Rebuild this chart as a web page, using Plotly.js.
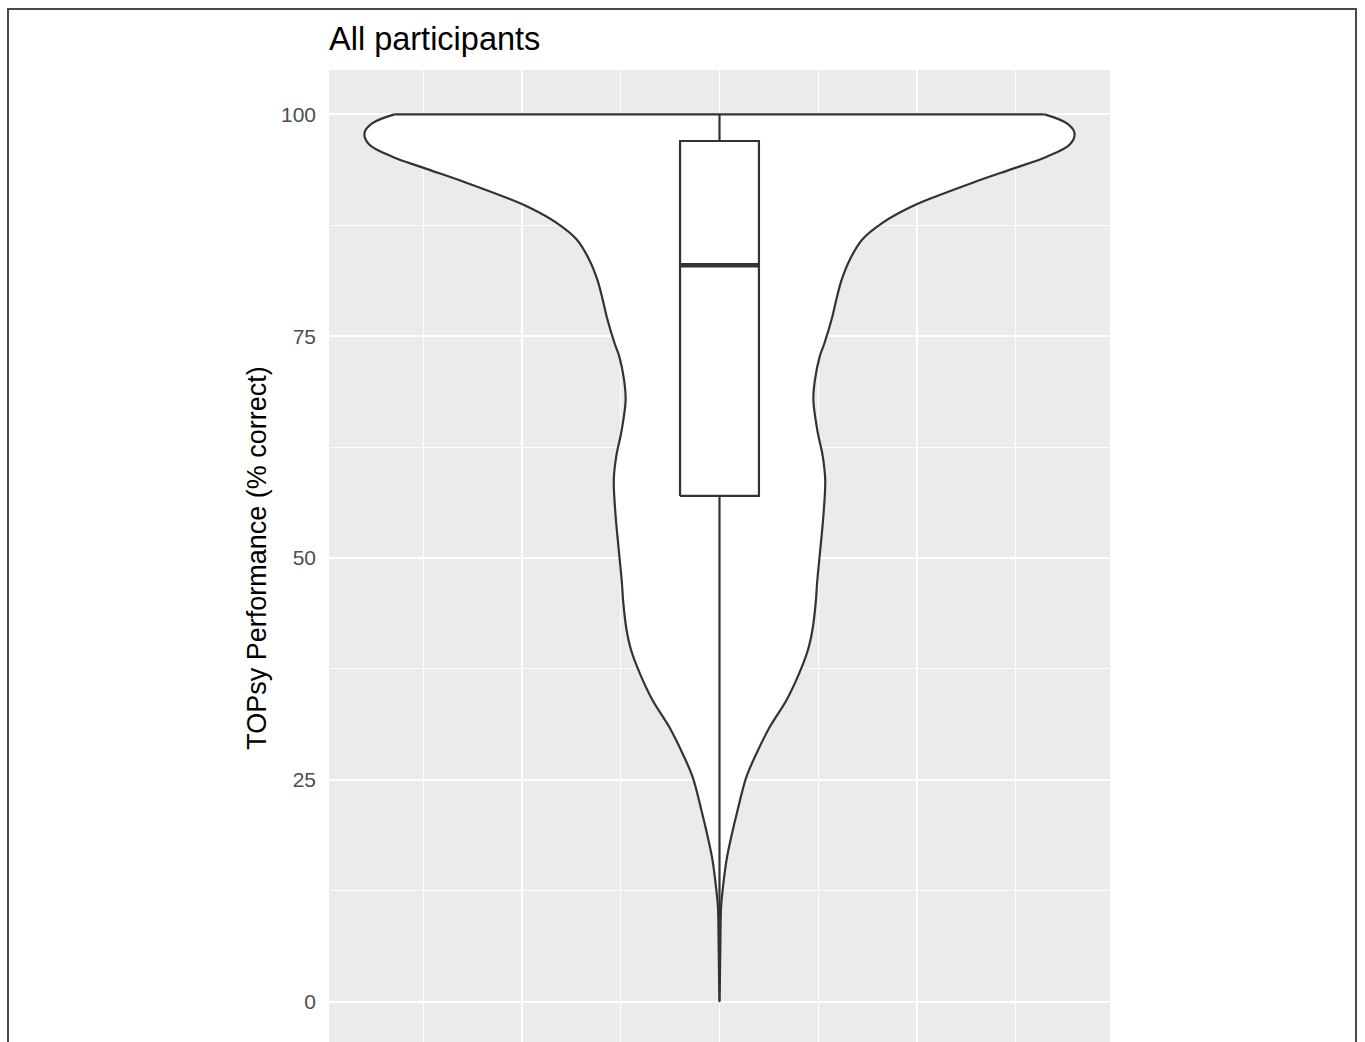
<!DOCTYPE html>
<html>
<head>
<meta charset="utf-8">
<script src="https://cdn.plot.ly/plotly-3.0.1.min.js"></script>
<style>
  html, body { margin: 0; padding: 0; background: #ffffff; overflow: hidden; }
  #wrap { position: relative; width: 1365px; height: 1042px; overflow: hidden; }
  #frame { position: absolute; left: 7px; top: 8px; width: 1350px; height: 1100px;
           border: 2px solid #4a4a4a; box-sizing: border-box; pointer-events: none; z-index: 5; }
  #chart { position: absolute; left: 0; top: 0; width: 1365px; height: 1100px; }
</style>
</head>
<body>
<div id="wrap">
  <div id="chart"></div>
  <div id="frame"></div>
</div>
<script>
// ---- data ----
const chartTitle = "All participants";
const yAxisTitle = "TOPsy Performance (% correct)";
const yTickValues = [0, 25, 50, 75, 100];

// violin outline: score levels (top -> bottom) and half-widths (x-axis units)
const densityLevels = [100, 99.0, 97.9, 96.6, 95.2, 94.0, 92.3, 90.6, 89.5, 87.8, 85.9, 83.6, 81.4, 79.1,
  77.2, 74.2, 72.7, 70.1, 67.8, 64.4, 61.4, 58.8, 55.1, 51.2, 47.5, 45.0, 42.0, 39.6, 37.0, 34.0, 31.0,
  28.0, 25.3, 21.6, 18.6, 16.0, 12.6, 10.7, 5.8, 0];
const densityHalfWidth = [0.412, 0.440, 0.450, 0.444, 0.414, 0.376, 0.321, 0.270, 0.241, 0.207, 0.181, 0.165, 0.155, 0.148,
  0.143, 0.133, 0.127, 0.121, 0.119, 0.124, 0.131, 0.134, 0.132, 0.128, 0.124, 0.122, 0.118, 0.112, 0.101, 0.085, 0.064,
  0.047, 0.034, 0.023, 0.015, 0.009, 0.004, 0.002, 0.001, 0];

// box plot summary
const boxQ1 = 57;
const boxMedian = 83;
const boxQ3 = 97;
const boxLower = 0;
const boxUpper = 100;
const boxPosition = 0;

// ---- styles ----
const INK = "#333333";
const FONT = "Liberation Sans, Arial, Helvetica, sans-serif";
const BOX_WIDTH = 0.1;

// build violin outline path: right side top->bottom, then left side bottom->top
const vx = [], vy = [];
for (let i = 0; i < densityLevels.length; i++) { vx.push(densityHalfWidth[i]); vy.push(densityLevels[i]); }
for (let i = densityLevels.length - 2; i >= 0; i--) { vx.push(-densityHalfWidth[i]); vy.push(densityLevels[i]); }

const violin = {
  type: "scatter", mode: "lines", x: vx, y: vy,
  fill: "toself", fillcolor: "#ffffff",
  line: { color: INK, width: 2.2, shape: "spline", smoothing: 1.0 },
  hoverinfo: "skip", showlegend: false
};
const violinTop = {
  type: "scatter", mode: "lines",
  x: [-densityHalfWidth[0], densityHalfWidth[0]],
  y: [densityLevels[0], densityLevels[0]],
  line: { color: INK, width: 2.2 },
  hoverinfo: "skip", showlegend: false
};

// box plot drawn from its summary values
const bl = boxPosition - BOX_WIDTH / 2, br = boxPosition + BOX_WIDTH / 2;
const upperWhisker = {
  type: "scatter", mode: "lines", x: [boxPosition, boxPosition], y: [boxQ3, boxUpper],
  line: { color: INK, width: 2.2 }, hoverinfo: "skip", showlegend: false
};
const lowerWhisker = {
  type: "scatter", mode: "lines", x: [boxPosition, boxPosition], y: [boxLower, boxQ1],
  line: { color: INK, width: 2.2 }, hoverinfo: "skip", showlegend: false
};
const boxBody = {
  type: "scatter", mode: "lines",
  x: [bl, br, br, bl, bl], y: [boxQ1, boxQ1, boxQ3, boxQ3, boxQ1],
  fill: "toself", fillcolor: "#ffffff",
  line: { color: INK, width: 2.2 }, hoverinfo: "skip", showlegend: false
};
const medianLine = {
  type: "scatter", mode: "lines", x: [bl, br], y: [boxMedian, boxMedian],
  line: { color: INK, width: 4.4 }, hoverinfo: "skip", showlegend: false
};

const layout = {
  width: 1365, height: 1100,
  margin: { l: 329, r: 255, t: 70, b: 54, pad: 0 },
  paper_bgcolor: "#ffffff", plot_bgcolor: "#EBEBEB",
  font: { family: FONT, color: "#4D4D4D" },
  title: {
    text: chartTitle, font: { family: FONT, size: 32.5, color: "#000000" },
    xref: "paper", x: 0, xanchor: "left",
    yref: "container", y: 1 - 39 / 1100, yanchor: "middle"
  },
  xaxis: {
    range: [-0.495, 0.495], dtick: 0.25, tick0: 0,
    showgrid: true, gridcolor: "#ffffff", gridwidth: 1.8,
    minor: { dtick: 0.125, showgrid: true, gridcolor: "#ffffff", gridwidth: 0.9 },
    zeroline: false, showline: false, ticks: "", showticklabels: false, fixedrange: true
  },
  yaxis: {
    range: [-5, 105], tickvals: yTickValues, ticktext: yTickValues.map(String),
    showgrid: true, gridcolor: "#ffffff", gridwidth: 1.8,
    minor: { dtick: 12.5, tick0: 0, showgrid: true, gridcolor: "#ffffff", gridwidth: 0.9 },
    zeroline: false, showline: false, ticks: "", ticklabelstandoff: 12,
    tickfont: { family: FONT, size: 21, color: "#4D4D4D" },
    title: { text: yAxisTitle, font: { family: FONT, size: 27, color: "#000000" }, standoff: 6 },
    fixedrange: true
  }
};

Plotly.newPlot("chart", [violin, violinTop, upperWhisker, lowerWhisker, boxBody, medianLine], layout,
  { displayModeBar: false, staticPlot: true });
</script>
</body>
</html>
